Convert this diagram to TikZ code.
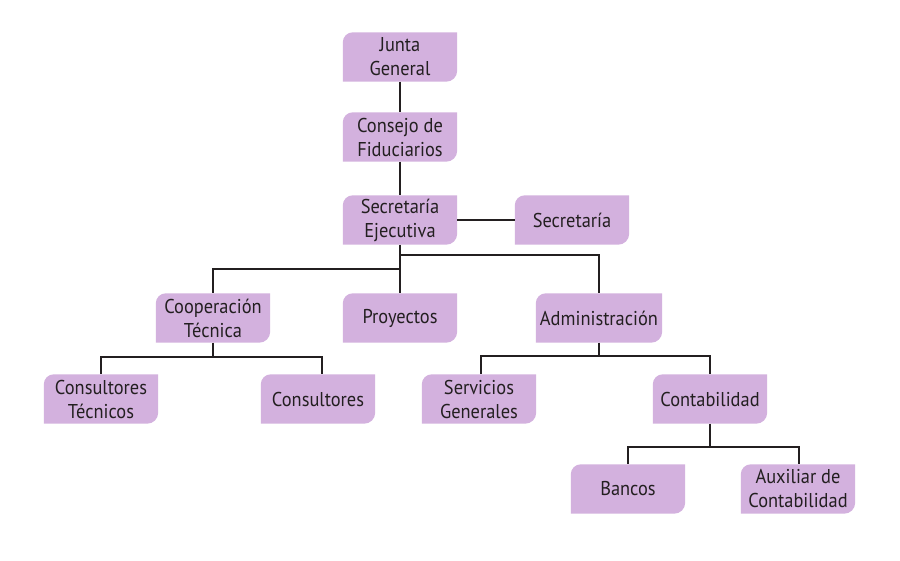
\documentclass[tikz,border=0pt]{standalone}
\usepackage{fontspec}
\setmainfont[FakeStretch=0.92]{PT Sans}
\usetikzlibrary{backgrounds}
\definecolor{boxfill}{HTML}{D3B1DE}
\definecolor{ink}{HTML}{231F20}
\begin{document}
\begin{tikzpicture}[x=1pt,y=-1pt,
  box/.style={minimum width=114pt,minimum height=49pt,inner sep=0pt,align=center,
     text=ink,font=\fontsize{20}{24}\selectfont},
  conn/.style={draw=ink,line width=2pt}]
\useasboundingbox (0,0) rectangle (900,560);
\node[box] (jg) at (400,57) {Junta\\General};
\node[box] (cf) at (400,137) {Consejo de\\Fiduciarios};
\node[box] (se) at (400,220) {Secretaría\\Ejecutiva};
\node[box] (sec) at (572,220) {Secretaría};
\node[box] (ct) at (213,318) {Cooperación\\Técnica};
\node[box] (pr) at (400,318) {Proyectos};
\node[box,minimum width=126pt] (ad) at (599,318) {Administración};
\node[box] (cot) at (101,399) {Consultores\\Técnicos};
\node[box] (con) at (318,399) {Consultores};
\node[box] (sg) at (479,399) {Servicios\\Generales};
\node[box] (cb) at (710,399) {Contabilidad};
\node[box] (ba) at (628,489) {Bancos};
\node[box] (ax) at (798,489) {Auxiliar de\\Contabilidad};
\begin{scope}[on background layer]
\fill[white] (0,0) rectangle (900,560);
\foreach \n in {jg,cf,se,sec,ct,pr,ad,cot,con,sg,cb,ba,ax}{
  \fill[boxfill] (\n.south west) -- ([yshift=-10pt]\n.north west)
     arc[start angle=180,end angle=90,radius=10pt] -- (\n.north east)
     -- ([yshift=11pt]\n.south east) arc[start angle=0,end angle=-90,radius=11pt] -- cycle;
}
\end{scope}
\coordinate (h1) at (400,269);
\coordinate (h2) at (400,255);
\draw[conn] (jg) -- (cf);
\draw[conn] (cf) -- (se);
\draw[conn] (se) -- (sec);
\draw[conn] (se.south) -- (pr.north);
\draw[conn] (h1) -| (ct.north);
\draw[conn] (h2) -| (ad.north);
\coordinate (c1) at (213,357);
\draw[conn] (ct.south) -- (c1);
\draw[conn] (c1) -| (cot.north);
\draw[conn] (c1) -| ([xshift=4pt]con.north);
\coordinate (a1) at (599,356);
\draw[conn] (ad.south) -- (a1);
\draw[conn] (a1) -| ([xshift=2pt]sg.north);
\draw[conn] (a1) -| (cb.north);
\coordinate (b1) at (710,447);
\draw[conn] (cb.south) -- (b1);
\draw[conn] (b1) -| (ba.north);
\draw[conn] (b1) -| ([xshift=1pt]ax.north);
\end{tikzpicture}
\end{document}
